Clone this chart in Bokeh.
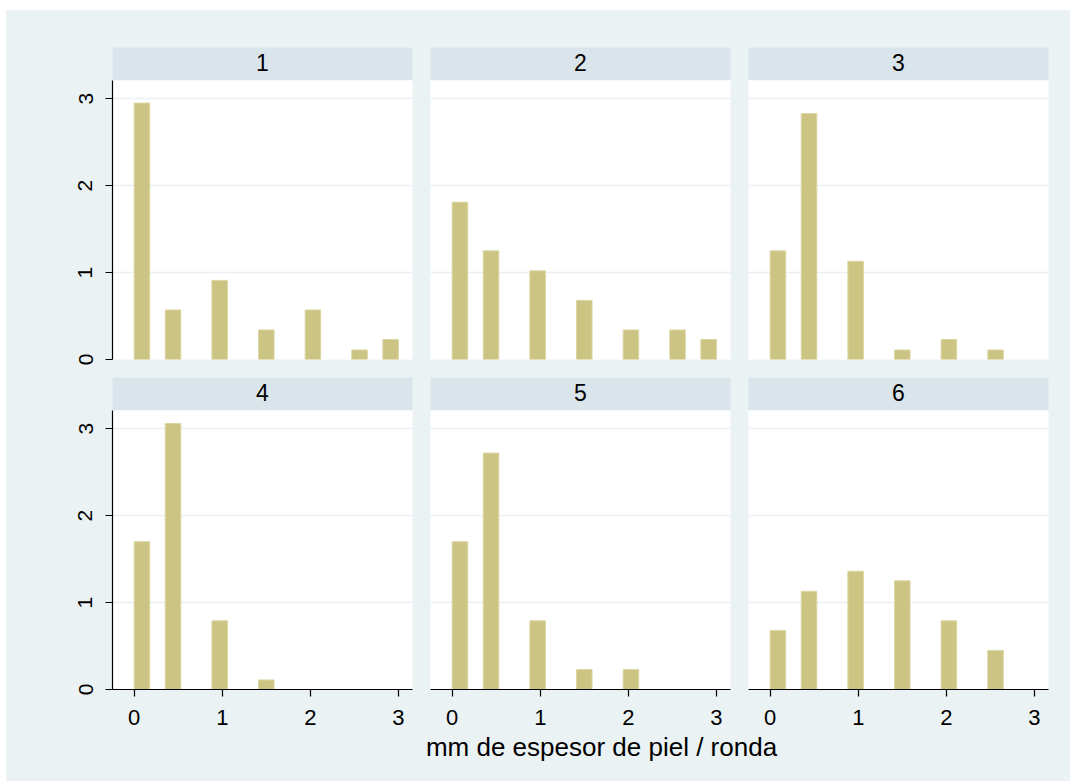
from bokeh.plotting import figure
from bokeh.layouts import column, row
from bokeh.models import Range1d, FixedTicker, Label, Spacer
from bokeh.embed import file_html
from bokeh.resources import INLINE

# ---- data (density histograms, one per "ronda") ----
rondas = ["1", "2", "3", "4", "5", "6"]
mm_values = [0.0, 0.5, 1.0, 1.5, 2.0, 2.5, 3.0]
dens_1 = [2.95, 0.57, 0.91, 0.34, 0.57, 0.11, 0.23]
dens_2 = [1.81, 1.25, 1.02, 0.68, 0.34, 0.34, 0.23]
dens_3 = [1.25, 2.83, 1.13, 0.11, 0.23, 0.11, 0.0]
dens_4 = [1.70, 3.06, 0.79, 0.11, 0.0, 0.0, 0.0]
dens_5 = [1.70, 2.72, 0.79, 0.23, 0.23, 0.0, 0.0]
dens_6 = [0.68, 1.13, 1.36, 1.25, 0.79, 0.45, 0.0]
x_ticks = [0, 1, 2, 3]
y_ticks = [0, 1, 2, 3]
x_title = "mm de espesor de piel / ronda"
n_bins = 17
hist_range = (0.0, 3.0)

densities = [dens_1, dens_2, dens_3, dens_4, dens_5, dens_6]

# ---- style ----
BG = "#EAF2F3"
STRIP = "#D9E5EB"
BAR = "#CCC482"
BAR_LINE = "#DCD6A4"
GRID = "#E8F0F2"
FONT = "Liberation Sans"
XTICK_FS = "22px"
YTICK_FS = "21px"
STRIP_FS = "23px"
TITLE_FS = "26px"

FRAME_W = 300
FRAME_H = 279
STRIP_H = 33
X_RANGE = (-0.246, 3.16)
Y_RANGE = (0, 3.21)


def bins_for(values, dens):
    w = (hist_range[1] - hist_range[0]) / n_bins
    lefts, rights, tops = [], [], []
    for v, d in zip(values, dens):
        if d <= 0:
            continue
        k = min(int((v - hist_range[0]) / w + 1e-9), n_bins - 1)
        lefts.append(hist_range[0] + k * w)
        rights.append(hist_range[0] + (k + 1) * w)
        tops.append(d)
    return lefts, rights, tops


def style_axis(ax, fs):
    ax.axis_line_color = "black"
    ax.axis_line_width = 1.2
    ax.major_tick_line_color = "black"
    ax.major_tick_line_width = 1.2
    ax.major_tick_out = 7
    ax.major_tick_in = 0
    ax.minor_tick_line_color = None
    ax.major_label_text_font = FONT
    ax.major_label_text_font_size = fs
    ax.major_label_text_color = "black"


def panel(dens, show_y, show_x, lb, rb, bb):
    p = figure(width=lb + FRAME_W + rb, height=FRAME_H + bb,
               x_range=Range1d(*X_RANGE), y_range=Range1d(*Y_RANGE),
               x_axis_location="below" if show_x else None,
               y_axis_location="left" if show_y else None,
               min_border_left=lb, min_border_right=rb,
               min_border_top=0, min_border_bottom=bb,
               output_backend="svg", toolbar_location=None,
               background_fill_color="white", border_fill_color=BG)
    p.outline_line_color = None
    p.xgrid.visible = False
    for g in p.ygrid:
        g.ticker = FixedTicker(ticks=y_ticks)
        g.grid_line_color = GRID
        g.grid_line_width = 1.3
    l, r, t = bins_for(mm_values, dens)
    p.quad(left=l, right=r, bottom=0, top=t, fill_color=BAR,
           line_color=BAR_LINE, line_width=1)
    if show_y:
        ax = p.yaxis[0]
        ax.ticker = FixedTicker(ticks=y_ticks)
        style_axis(ax, YTICK_FS)
        ax.major_label_orientation = "vertical"
        ax.major_label_standoff = 13
    if show_x:
        ax = p.xaxis[0]
        ax.ticker = FixedTicker(ticks=x_ticks)
        style_axis(ax, XTICK_FS)
        ax.major_label_standoff = 13
    return p


def strip(label, lb, rb, tb):
    s = figure(width=lb + FRAME_W + rb, height=tb + STRIP_H,
               x_range=Range1d(0, 1), y_range=Range1d(0, 1),
               x_axis_location=None, y_axis_location=None,
               min_border_left=lb, min_border_right=rb,
               min_border_top=tb, min_border_bottom=0,
               output_backend="svg", toolbar_location=None,
               background_fill_color=STRIP, border_fill_color=BG)
    s.outline_line_color = None
    s.xgrid.visible = False
    s.ygrid.visible = False
    s.add_layout(Label(x=0.5, y=0.56, text=label, text_align="center",
                       text_baseline="middle", text_font=FONT,
                       text_font_size=STRIP_FS, text_color="black"))
    return s


cols = [(106, 9), (9, 9), (9, 22)]
BOTTOM_B = 46
OVERLAP = 12
TITLE_H = 58

strips_top = [strip(rondas[i], *cols[i], 37) for i in range(3)]
panels_top = [panel(densities[i], i == 0, False, *cols[i], 9) for i in range(3)]
strips_bot = [strip(rondas[3 + i], *cols[i], 9) for i in range(3)]
panels_bot = [panel(densities[3 + i], i == 0, True, *cols[i], BOTTOM_B)
              for i in range(3)]

# overall x-axis title (spans beyond the middle panel, as in the original)
tf = figure(width=1064, height=TITLE_H,
            x_range=Range1d(0, 1064), y_range=Range1d(0, TITLE_H),
            x_axis_location=None, y_axis_location=None,
            min_border=0, output_backend="svg", toolbar_location=None,
            background_fill_color=None, border_fill_color=None,
            styles={"margin-top": f"-{OVERLAP}px"})
tf.outline_line_color = None
tf.xgrid.visible = False
tf.ygrid.visible = False
tf.add_layout(Label(x=595, y=TITLE_H - 23.7, text=x_title, text_align="center",
                    text_baseline="alphabetic", text_font=FONT,
                    text_font_size=TITLE_FS, text_color="black"))

inner = column(row(*strips_top, styles={"background-color": BG}),
               row(*panels_top, styles={"background-color": BG}),
               row(*strips_bot, styles={"background-color": BG}),
               row(*panels_bot, styles={"background-color": BG}),
               tf,
               spacing=0, styles={"background-color": BG})

layout = column(Spacer(width=1070, height=10),
                row(Spacer(width=6, height=771), inner, spacing=0),
                spacing=0)

open("out.html", "w").write(file_html(layout, INLINE))
